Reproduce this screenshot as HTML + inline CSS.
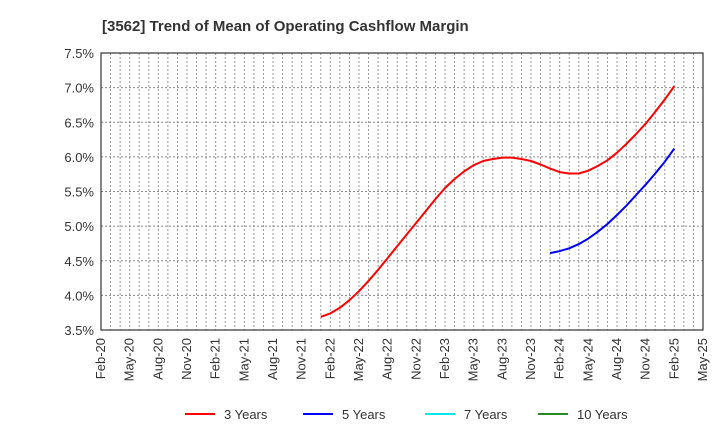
<!DOCTYPE html>
<html><head><meta charset="utf-8"><style>
body{margin:0;background:#fff;font-family:"Liberation Sans",sans-serif}
</style></head><body>
<svg id="chart" width="720" height="440" xmlns="http://www.w3.org/2000/svg" font-family="Liberation Sans, sans-serif">
<text x="102" y="31" font-size="15" font-weight="bold" fill="#333">[3562]  Trend of Mean of Operating Cashflow Margin</text>
<g id="grid"></g><g id="axes"></g><g id="series"></g>
<g font-size="13" fill="#333">
<g><line x1="185" y1="414" x2="215" y2="414" stroke="#ff0000" stroke-width="2"/><text x="224" y="419">3 Years</text></g>
<g><line x1="303" y1="414" x2="333" y2="414" stroke="#0000ff" stroke-width="2"/><text x="342" y="419">5 Years</text></g>
<g><line x1="425" y1="414" x2="455" y2="414" stroke="#00e5ee" stroke-width="2"/><text x="464" y="419">7 Years</text></g>
<g><line x1="538" y1="414" x2="568" y2="414" stroke="#228b22" stroke-width="2"/><text x="577" y="419">10 Years</text></g>
</g>
</svg>
<script>
const xTickLabels=["Feb-20","May-20","Aug-20","Nov-20","Feb-21","May-21","Aug-21","Nov-21","Feb-22","May-22","Aug-22","Nov-22","Feb-23","May-23","Aug-23","Nov-23","Feb-24","May-24","Aug-24","Nov-24","Feb-25","May-25"];
const yTicks=[3.5,4.0,4.5,5.0,5.5,6.0,6.5,7.0,7.5];
const start3=23;
const values3=[3.69,3.74,3.82,3.93,4.06,4.21,4.37,4.54,4.71,4.88,5.05,5.22,5.39,5.55,5.68,5.79,5.88,5.94,5.97,5.99,5.99,5.97,5.94,5.89,5.83,5.78,5.76,5.76,5.80,5.87,5.95,6.06,6.19,6.33,6.48,6.65,6.83,7.02];
const start5=47;
const values5=[4.61,4.64,4.68,4.74,4.82,4.92,5.03,5.16,5.30,5.45,5.60,5.76,5.93,6.12];
const NS="http://www.w3.org/2000/svg";
const L=101,R=703,T=53,B=330,months=63;
const x=m=>L+m*(R-L)/months;
const y=v=>B-(v-3.5)*(B-T)/4;
function mk(tag,attrs,parent){const e=document.createElementNS(NS,tag);for(const k in attrs)e.setAttribute(k,attrs[k]);parent.appendChild(e);return e;}
const grid=document.getElementById('grid'),axes=document.getElementById('axes'),series=document.getElementById('series');
for(let m=1;m<months;m++){const l=mk('line',{x1:x(m),x2:x(m),y1:T,y2:B,stroke:'#999','stroke-dasharray':'2,2','stroke-width':1},grid);

}
yTicks.forEach(v=>{if(v>3.5&&v<7.5){const l=mk('line',{x1:L,x2:R,y1:y(v),y2:y(v),stroke:'#888','stroke-dasharray':'2,2','stroke-width':1},grid);

}
const t=mk('text',{x:L-7,y:y(v)+5,'text-anchor':'end','font-size':13,fill:'#333'},axes);t.textContent=v.toFixed(1)+'%';

});
xTickLabels.forEach((s,i)=>{const xx=x(i*3);const t=mk('text',{x:xx+4,y:B+8,'text-anchor':'end','font-size':13,fill:'#333',transform:`rotate(-90 ${xx+4} ${B+8})`},axes);t.textContent=s;

});
const fr=mk('rect',{x:L,y:T,width:R-L,height:B-T,fill:'none',stroke:'#333','stroke-width':1.2},axes);


function line(vals,st,col,name){const p=vals.map((v,i)=>x(st+i).toFixed(1)+','+y(v).toFixed(1)).join(' ');
const e=mk('polyline',{points:p,fill:'none',stroke:col,'stroke-width':2,'stroke-linejoin':'round'},series);

}
line(values3,start3,'#ff0000','series-3-years');
line(values5,start5,'#0000ff','series-5-years');
</script>
</body></html>
